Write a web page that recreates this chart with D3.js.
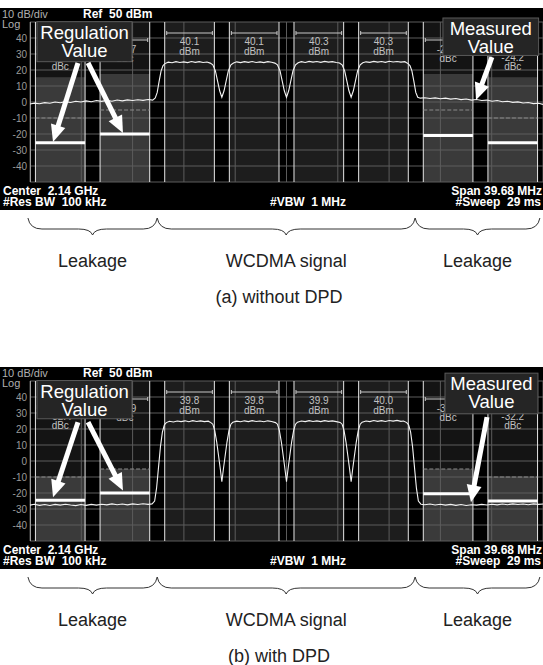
<!DOCTYPE html>
<html>
<head>
<meta charset="utf-8">
<script src="https://cdn.jsdelivr.net/npm/d3@7"></script>
<style>
  body { margin: 0; background: #fff; }
  svg { display: block; font-family: "Liberation Sans", Arial, sans-serif; }
</style>
</head>
<body>
<svg id="chart" width="543" height="665"></svg>
<script>
// ---- data (MHz offset from 2.14 GHz centre, levels in dBm) ----
const carrierMHz = [-7.5, -2.5, 2.5, 7.5];
const leakMHz = [-17.5, -12.5, 12.5, 17.5];
const chanBW = 3.84;
const yTickLabels = [40, 30, 20, 10, 0, -10, -20, -30, -40];

const carrierPowerA = ['40.1', '40.1', '40.3', '40.3'];
const carrierPowerB = ['39.8', '39.8', '39.9', '40.0'];
const leakAclrA = ['-24.6', '-22.7', '-22.9', '-24.2'];
const leakAclrB = ['-32.4', '-31.9', '-31.8', '-32.2'];
const regulationA = [-25.5, -20, -21, -25.5];
const regulationB = [-24.5, -20, -20.5, -25];
const limitLevel = [-10, -5, -5, -10];
const leakBarA = [15.5, 17.5, 17.5, 15.5];
const leakBarB = [-10, -5, -5, -10];

const traceA = [
  [-19.84,-1.3],[-19.5,-0.7],[-19.1,-1.1],[-18.7,-0.4],[-18.3,-0.8],[-17.9,0.0],[-17.5,-0.5],[-17.1,0.2],
  [-16.7,-0.3],[-16.3,0.5],[-15.9,0.0],[-15.5,0.7],[-15.1,0.2],[-14.7,0.9],[-14.3,0.4],[-13.9,1.0],
  [-13.5,0.5],[-13.1,1.2],[-12.7,0.7],[-12.3,1.3],[-11.9,0.9],[-11.5,1.4],[-11.1,1.0],[-10.7,1.6],[-10.35,1.2],
  [-10.15,2.5],[-10.0,6],[-9.85,13],[-9.7,19.5],[-9.55,22.8],[-9.4,24.0],
  [-9.15,24.9],[-8.85,24.5],[-8.55,25.2],[-8.25,24.7],[-7.95,25.1],[-7.65,24.6],[-7.35,25.3],[-7.05,24.8],
  [-6.75,25.2],[-6.45,24.7],[-6.15,25.0],[-5.9,24.3],[-5.7,23.2],
  [-5.5,19.5],[-5.33,13],[-5.17,7],[-5.0,3],[-4.83,7],[-4.67,13],[-4.5,19.5],[-4.3,23.2],
  [-4.1,24.4],[-3.85,25.1],[-3.55,24.6],[-3.25,25.2],[-2.95,24.8],[-2.65,25.3],[-2.35,24.7],[-2.05,25.1],
  [-1.75,24.6],[-1.45,25.2],[-1.15,24.8],[-0.9,24.3],[-0.7,23.2],
  [-0.5,19.5],[-0.33,13],[-0.17,7],[0,3],[0.17,7],[0.33,13],[0.5,19.5],[0.7,23.2],
  [0.9,24.5],[1.15,25.2],[1.45,24.7],[1.75,25.4],[2.05,24.9],[2.35,25.3],[2.65,24.8],[2.95,25.4],
  [3.25,24.9],[3.55,25.2],[3.85,24.7],[4.1,24.4],[4.3,23.2],
  [4.5,19.5],[4.67,13],[4.83,7],[5.0,3],[5.17,7],[5.33,13],[5.5,19.5],[5.7,23.2],
  [5.9,24.5],[6.15,25.1],[6.45,24.8],[6.75,25.4],[7.05,24.9],[7.35,25.3],[7.65,24.8],[7.95,25.5],
  [8.25,25.0],[8.55,25.3],[8.85,24.9],[9.15,25.2],[9.4,24.0],
  [9.55,22.8],[9.7,19.5],[9.85,13],[10.0,6],[10.15,3.0],[10.35,2.4],
  [10.7,2.7],[11.1,2.2],[11.5,2.6],[11.9,2.0],[12.3,2.4],[12.7,1.8],[13.1,2.2],[13.5,1.5],[13.9,1.9],
  [14.3,1.2],[14.7,1.6],[15.1,0.9],[15.5,1.2],[15.9,0.5],[16.3,0.9],[16.7,0.2],[17.1,0.5],[17.5,-0.2],
  [17.9,0.1],[18.3,-0.6],[18.7,-0.3],[19.1,-1.0],[19.5,-0.8],[19.84,-1.5]
];

const traceB = [
  [-19.84,-27.6],[-19.5,-27.0],[-19.1,-27.7],[-18.7,-27.2],[-18.3,-27.8],[-17.9,-27.1],[-17.5,-27.6],[-17.1,-27.0],
  [-16.7,-27.5],[-16.3,-27.9],[-15.9,-27.2],[-15.5,-27.7],[-15.1,-27.1],[-14.7,-27.6],[-14.3,-27.0],[-13.9,-27.4],
  [-13.5,-26.8],[-13.1,-27.3],[-12.7,-26.9],[-12.3,-27.4],[-11.9,-26.8],[-11.5,-27.2],[-11.1,-26.7],[-10.7,-27.1],[-10.4,-26.8],
  [-10.2,-25],[-10.05,-17],[-9.9,-4],[-9.75,9],[-9.6,18],[-9.45,22.5],[-9.3,24.0],
  [-9.05,24.8],[-8.75,24.4],[-8.45,25.0],[-8.15,24.6],[-7.85,25.1],[-7.55,24.5],[-7.25,25.2],[-6.95,24.7],
  [-6.65,25.1],[-6.35,24.6],[-6.05,24.9],[-5.85,24.0],[-5.7,23],
  [-5.55,19],[-5.4,12],[-5.25,3],[-5.12,-5],[-5.0,-13],[-4.88,-5],[-4.75,3],[-4.6,12],[-4.45,19],[-4.3,23],
  [-4.15,24.2],[-3.85,24.9],[-3.55,24.5],[-3.25,25.1],[-2.95,24.6],[-2.65,25.2],[-2.35,24.7],[-2.05,25.0],
  [-1.75,24.5],[-1.45,25.1],[-1.15,24.7],[-0.85,24.0],[-0.7,23],
  [-0.55,19],[-0.4,12],[-0.25,3],[-0.12,-5],[0,-13],[0.12,-5],[0.25,3],[0.4,12],[0.55,19],[0.7,23],
  [0.85,24.3],[1.15,25.0],[1.45,24.6],[1.75,25.2],[2.05,24.7],[2.35,25.1],[2.65,24.6],[2.95,25.2],
  [3.25,24.8],[3.55,25.1],[3.85,24.6],[4.15,24.1],[4.3,23],
  [4.45,19],[4.6,12],[4.75,3],[4.88,-5],[5.0,-13],[5.12,-5],[5.25,3],[5.4,12],[5.55,19],[5.7,23],
  [5.85,24.3],[6.15,25.0],[6.45,24.6],[6.75,25.3],[7.05,24.8],[7.35,25.2],[7.65,24.7],[7.95,25.3],
  [8.25,24.9],[8.55,25.4],[8.85,24.8],[9.05,25.0],[9.3,24.0],
  [9.45,22.5],[9.6,18],[9.75,9],[9.9,-4],[10.05,-17],[10.2,-25],[10.4,-27.0],
  [10.7,-27.3],[11.1,-26.9],[11.5,-27.5],[11.9,-27.0],[12.3,-27.6],[12.7,-27.1],[13.1,-27.7],[13.5,-27.2],
  [13.9,-27.8],[14.3,-27.3],[14.7,-27.6],[15.1,-27.1],[15.5,-27.5],[15.9,-27.0],[16.3,-27.4],[16.7,-26.9],
  [17.1,-27.3],[17.5,-26.8],[17.9,-27.2],[18.3,-26.9],[18.7,-27.3],[19.1,-26.8],[19.5,-27.1],[19.84,-26.9]
];

// callouts in data units: [MHz0, dB0, MHz1, dB1]
const regBoxA = [-19.3, 50.2, -11.95, 25.2];
const measBoxA = [12.1, 52.5, 19.5, 29.1];
const regBoxB = [-19.3, 50.3, -11.95, 26.4];
const measBoxB = [12.26, 54.9, 19.45, 29.5];
const regArrowsA = [[-16.13, 24.4, -18.06, -25], [-15.35, 24.4, -12.65, -19.4]];
const measArrowA = [15.89, 28.1, 14.66, 1.25];
const regArrowsB = [[-16.13, 24.25, -18.06, -22.6], [-15.35, 24.25, -12.65, -18.4]];
const measArrowB = [15.51, 27.4, 14.27, -25.75];

const braceMHz = [[-20.0, -10.0], [-10.0, 9.95], [9.95, 19.6]];
const braceLabels = ['Leakage', 'WCDMA signal', 'Leakage'];
const captions = ['(a) without DPD', '(b) with DPD'];

// ---- drawing ----
const W = 543;
const svg = d3.select('#chart');
const x = d3.scaleLinear().domain([-19.84, 19.84]).range([30, 543]);
const y = d3.scaleLinear().domain([-50, 50]).range([182, 22]);

const panels = [
  { off: 0, trace: traceA, pwr: carrierPowerA, aclr: leakAclrA, reg: regulationA, bar: leakBarA,
    regBox: regBoxA, measBox: measBoxA, regArrows: regArrowsA, measArrow: measArrowA, caption: captions[0] },
  { off: 359, trace: traceB, pwr: carrierPowerB, aclr: leakAclrB, reg: regulationB, bar: leakBarB,
    regBox: regBoxB, measBox: measBoxB, regArrows: regArrowsB, measArrow: measArrowB, caption: captions[1] }
];

function arrow(g, a) {
  const x1 = x(a[0]), y1 = y(a[1]), x2 = x(a[2]), y2 = y(a[3]);
  const len = Math.hypot(x2 - x1, y2 - y1);
  const ux = (x2 - x1) / len, uy = (y2 - y1) / len;
  const hl = 17, hw = 7.5;
  const bx = x2 - ux * hl, by = y2 - uy * hl;
  g.append('line')
    .attr('x1', x1).attr('y1', y1).attr('x2', bx + ux).attr('y2', by + uy)
    .attr('stroke', '#fff').attr('stroke-width', 5);
  g.append('path')
    .attr('d', `M${x2},${y2}L${bx - uy * hw},${by + ux * hw}L${bx + uy * hw},${by - ux * hw}Z`)
    .attr('fill', '#fff');
}

function callout(g, b, lines) {
  const x0 = x(b[0]), y0 = y(b[1]), x1 = x(b[2]), y1 = y(b[3]);
  g.append('rect')
    .attr('x', x0).attr('y', y0).attr('width', x1 - x0).attr('height', y1 - y0)
    .attr('fill', '#252525').attr('stroke', '#5a5a5a');
  lines.forEach((t, i) => {
    g.append('text')
      .attr('x', (x0 + x1) / 2).attr('y', y0 + 17 + i * 18)
      .attr('text-anchor', 'middle').attr('fill', '#fff')
      .attr('font-size', 18.5).text(t);
  });
}

function brace(x0, x1, yTop) {
  const xm = (x0 + x1) / 2, yMid = yTop + 11, yTip = yTop + 17, r = 14;
  return `M${x0},${yTop} Q${x0 + 2},${yMid} ${x0 + r},${yMid} L${xm - r},${yMid} ` +
    `Q${xm - 2},${yMid} ${xm},${yTip} Q${xm + 2},${yMid} ${xm + r},${yMid} ` +
    `L${x1 - r},${yMid} Q${x1 - 2},${yMid} ${x1},${yTop}`;
}

panels.forEach((p, pi) => {
  const g = svg.append('g').attr('transform', `translate(0,${p.off})`);
  const clipId = 'clip' + pi;
  g.append('clipPath').attr('id', clipId)
    .append('rect').attr('x', 0).attr('y', 8).attr('width', W).attr('height', 202);
  const s = g.append('g').attr('clip-path', `url(#${clipId})`);

  s.append('rect').attr('x', 0).attr('y', 8).attr('width', W).attr('height', 202).attr('fill', '#000');

  // channel backgrounds
  carrierMHz.forEach(c => {
    s.append('rect')
      .attr('x', x(c - chanBW / 2)).attr('y', y(50))
      .attr('width', x(c + chanBW / 2) - x(c - chanBW / 2)).attr('height', y(-50) - y(50))
      .attr('fill', '#1d1d1d');
  });
  leakMHz.forEach((c, i) => {
    s.append('rect')
      .attr('x', x(c - chanBW / 2)).attr('y', y(50))
      .attr('width', x(c + chanBW / 2) - x(c - chanBW / 2)).attr('height', y(-50) - y(50))
      .attr('fill', '#141414');
    s.append('rect')
      .attr('x', x(c - chanBW / 2)).attr('y', y(p.bar[i]))
      .attr('width', x(c + chanBW / 2) - x(c - chanBW / 2)).attr('height', y(-50) - y(p.bar[i]))
      .attr('fill', '#3a3a3a');
  });

  // graticule
  const hLines = d3.range(-50, 51, 10);
  const vLines = d3.range(11).map(i => -19.84 + i * 3.968);
  s.selectAll('.hg').data(hLines).enter().append('line')
    .attr('x1', x(-19.84)).attr('x2', x(19.84))
    .attr('y1', d => y(d)).attr('y2', d => y(d))
    .attr('stroke', '#5c5c5c').attr('stroke-width', 1);
  s.selectAll('.vg').data(vLines).enter().append('line')
    .attr('x1', d => x(d)).attr('x2', d => x(d))
    .attr('y1', y(50)).attr('y2', y(-50))
    .attr('stroke', '#5c5c5c').attr('stroke-width', 1);
  s.append('line').attr('x1', x(-19.84) + 0.5).attr('x2', x(-19.84) + 0.5)
    .attr('y1', y(50)).attr('y2', y(-50)).attr('stroke', '#a0a0a0');

  // channel edge markers
  const edges = carrierMHz.concat(leakMHz).flatMap(c => [c - chanBW / 2, c + chanBW / 2]);
  s.selectAll('.edge').data(edges).enter().append('line')
    .attr('x1', d => x(d)).attr('x2', d => x(d))
    .attr('y1', y(50)).attr('y2', y(-50))
    .attr('stroke', '#e6e6e6').attr('stroke-width', 1);

  // limit lines (dashed)
  leakMHz.forEach((c, i) => {
    s.append('line')
      .attr('x1', x(c - chanBW / 2)).attr('x2', x(c + chanBW / 2))
      .attr('y1', y(limitLevel[i])).attr('y2', y(limitLevel[i]))
      .attr('stroke', '#8a8a8a').attr('stroke-dasharray', '4,2');
  });

  // measurement brackets and readouts
  const bracket = (c, by) => {
    const x0 = x(c - chanBW / 2) + 2, x1 = x(c + chanBW / 2) - 2;
    s.append('path')
      .attr('d', `M${x0},${by - 2}V${by + 2}M${x0},${by}H${x1}M${x1},${by - 2}V${by + 2}`)
      .attr('stroke', '#c8c8c8').attr('fill', 'none');
  };
  carrierMHz.forEach((c, i) => {
    const by = 33;
    bracket(c, by);
    s.append('text').attr('x', x(c)).attr('y', by + 12).attr('text-anchor', 'middle')
      .attr('fill', '#c0c0c0').attr('font-size', 10).text(p.pwr[i]);
    s.append('text').attr('x', x(c)).attr('y', by + 22).attr('text-anchor', 'middle')
      .attr('fill', '#c0c0c0').attr('font-size', 10).text('dBm');
  });
  leakMHz.forEach((c, i) => {
    const by = (i === 1 || i === 2) ? 40 : 48;
    bracket(c, by);
    s.append('text').attr('x', x(c)).attr('y', by + 13).attr('text-anchor', 'middle')
      .attr('fill', '#c0c0c0').attr('font-size', 10).text(p.aclr[i]);
    s.append('text').attr('x', x(c)).attr('y', by + 22).attr('text-anchor', 'middle')
      .attr('fill', '#c0c0c0').attr('font-size', 10).text('dBc');
  });

  // trace
  const line = d3.line().x(d => x(d[0])).y(d => y(d[1]));
  s.append('path').datum(p.trace)
    .attr('d', line).attr('fill', 'none')
    .attr('stroke', '#f4f4f4').attr('stroke-width', 1.1);

  // regulation levels
  leakMHz.forEach((c, i) => {
    s.append('line')
      .attr('x1', x(c - chanBW / 2)).attr('x2', x(c + chanBW / 2))
      .attr('y1', y(p.reg[i])).attr('y2', y(p.reg[i]))
      .attr('stroke', '#fff').attr('stroke-width', 3);
  });

  // y labels
  s.selectAll('.yl').data(yTickLabels).enter().append('text')
    .attr('x', 27).attr('y', d => y(d) + 3.5).attr('text-anchor', 'end')
    .attr('fill', '#9a9a9a').attr('font-size', 10).text(d => d);

  // header / footer text
  s.append('text').attr('x', 2).attr('y', 18).attr('fill', '#b0b0b0').attr('font-size', 11).text('10 dB/div');
  s.append('text').attr('x', 2).attr('y', 28).attr('fill', '#b0b0b0').attr('font-size', 11).text('Log');
  s.append('text').attr('x', 83).attr('y', 18).attr('fill', '#fff').attr('font-size', 12)
    .attr('font-weight', 'bold').style('white-space', 'pre').text('Ref  50 dBm');
  const foot = [
    ['Center  2.14 GHz', 3, 195, 'start'], ['#Res BW  100 kHz', 3, 206, 'start'],
    ['#VBW  1 MHz', 270, 206, 'start'],
    ['Span 39.68 MHz', 542, 195, 'end'], ['#Sweep  29 ms', 541, 206, 'end']
  ];
  foot.forEach(f => {
    s.append('text').attr('x', f[1]).attr('y', f[2]).attr('text-anchor', f[3])
      .attr('fill', '#fff').attr('font-size', 12).attr('font-weight', 'bold')
      .style('white-space', 'pre').text(f[0]);
  });

  // callouts
  callout(s, p.regBox, ['Regulation', 'Value']);
  p.regArrows.forEach(a => arrow(s, a));
  callout(s, p.measBox, ['Measured', 'Value']);
  arrow(s, p.measArrow);

  // braces and labels under the screen
  braceMHz.forEach((b, i) => {
    g.append('path').attr('d', brace(x(b[0]), x(b[1]), 218))
      .attr('fill', 'none').attr('stroke', '#333').attr('stroke-width', 1);
    g.append('text').attr('x', x((b[0] + b[1]) / 2)).attr('y', 267)
      .attr('text-anchor', 'middle').attr('fill', '#222').attr('font-size', 18).text(braceLabels[i]);
  });
  g.append('text').attr('x', 279).attr('y', 303).attr('text-anchor', 'middle')
    .attr('fill', '#222').attr('font-size', 18).text(p.caption);
});
</script>
</body>
</html>
